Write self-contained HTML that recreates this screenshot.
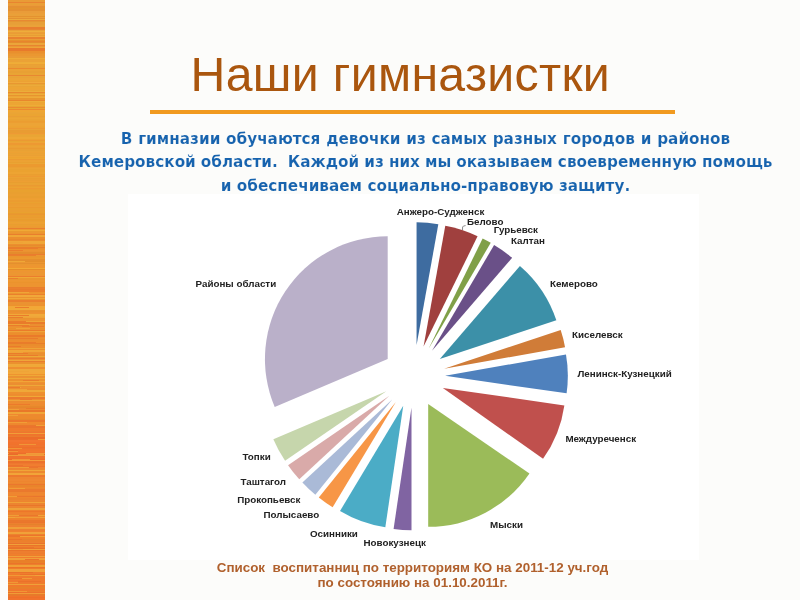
<!DOCTYPE html>
<html lang="ru">
<head>
<meta charset="utf-8">
<title>Наши гимназистки</title>
<style>
html,body{margin:0;padding:0;}
body{width:800px;height:600px;overflow:hidden;background:#fcfcfa;position:relative;font-family:"Liberation Sans",sans-serif;}
#stripe{position:absolute;left:8px;top:0;width:37px;height:600px;}
#title{position:absolute;left:190.6px;top:46.1px;font-size:48.2px;line-height:56px;color:#aa560e;white-space:nowrap;letter-spacing:0.33px;}
#rule{position:absolute;left:150px;top:110.3px;width:525px;height:3.5px;background:#f19a1f;}
#sub{position:absolute;left:60.5px;top:127.6px;width:730px;text-align:center;font-family:"DejaVu Sans","Liberation Sans",sans-serif;font-weight:bold;font-size:15.25px;line-height:23.8px;color:#1763ae;white-space:nowrap;-webkit-text-stroke:0.14px #fcfcfa;}
#chart{position:absolute;left:128px;top:194px;width:571px;height:366px;background:#fff;}
#pie{position:absolute;left:0;top:0;width:800px;height:600px;}
#pie text{font-family:"Liberation Sans",sans-serif;font-weight:bold;font-size:9.8px;fill:#222;}
#foot{position:absolute;left:127px;top:559.5px;width:571px;text-align:center;font-weight:bold;font-size:13.4px;line-height:15.6px;color:#b0602c;white-space:pre;}
</style>
</head>
<body>
<svg id="stripe" width="37" height="600" viewBox="0 0 37 600" shape-rendering="crispEdges">
<rect y="0" width="37" height="1" fill="#ea9934"/>
<rect y="1" width="37" height="2" fill="#eb8232"/>
<rect y="3" width="37" height="1" fill="#ea862e"/>
<rect y="4" width="37" height="1" fill="#ea8332"/>
<rect y="5" width="37" height="1" fill="#eb9a38"/>
<rect y="6" width="37" height="2" fill="#e49032"/>
<rect y="8" width="37" height="1" fill="#e4942e"/>
<rect y="9" width="37" height="2" fill="#e49032"/>
<rect y="11" width="37" height="2" fill="#e99c39"/>
<rect y="13" width="37" height="1" fill="#eb9e38"/>
<rect y="14" width="37" height="2" fill="#e9a039"/>
<rect y="16" width="37" height="1" fill="#e4922f"/>
<rect y="17" width="37" height="1" fill="#eba137"/>
<rect y="18" width="37" height="1" fill="#e39132"/>
<rect y="19" width="37" height="1" fill="#eda93b"/>
<rect y="20" width="37" height="1" fill="#e78933"/>
<rect y="21" width="37" height="1" fill="#e59632"/>
<rect y="22" width="37" height="2" fill="#e79f38"/>
<rect y="24" width="37" height="1" fill="#e7a038"/>
<rect y="25" width="37" height="2" fill="#eaa239"/>
<rect y="27" width="37" height="1" fill="#ea872f"/>
<rect y="28" width="37" height="2" fill="#e78630"/>
<rect y="30" width="37" height="1" fill="#eaa038"/>
<rect y="31" width="37" height="1" fill="#eeab3a"/>
<rect y="32" width="37" height="1" fill="#eb9e37"/>
<rect y="33" width="37" height="1" fill="#ea9c35"/>
<rect y="34" width="37" height="1" fill="#eca737"/>
<rect y="35" width="37" height="1" fill="#e89c35"/>
<rect y="36" width="37" height="1" fill="#efa83b"/>
<rect y="37" width="37" height="2" fill="#e49331"/>
<rect y="39" width="37" height="1" fill="#eb9b35"/>
<rect y="40" width="37" height="1" fill="#e6912c"/>
<rect y="41" width="37" height="1" fill="#e8842d"/>
<rect y="42" width="37" height="1" fill="#e38d2c"/>
<rect y="43" width="37" height="2" fill="#eba53a"/>
<rect y="45" width="37" height="1" fill="#e8842f"/>
<rect y="46" width="37" height="1" fill="#e99832"/>
<rect y="47" width="37" height="1" fill="#eea438"/>
<rect y="48" width="37" height="1" fill="#e4892c"/>
<rect y="49" width="37" height="1" fill="#e7902d"/>
<rect y="50" width="37" height="1" fill="#ea8c2d"/>
<rect y="51" width="37" height="2" fill="#ea8f2d"/>
<rect y="53" width="37" height="1" fill="#e89430"/>
<rect y="54" width="37" height="2" fill="#eb9731"/>
<rect y="56" width="37" height="2" fill="#e99b35"/>
<rect y="58" width="37" height="1" fill="#efab38"/>
<rect y="59" width="37" height="1" fill="#eba235"/>
<rect y="60" width="37" height="2" fill="#eba236"/>
<rect y="62" width="37" height="1" fill="#edac39"/>
<rect y="63" width="37" height="1" fill="#f0ad37"/>
<rect y="64" width="37" height="1" fill="#eaa034"/>
<rect y="65" width="37" height="1" fill="#e9a335"/>
<rect y="66" width="37" height="1" fill="#eaa037"/>
<rect y="67" width="37" height="1" fill="#e8a135"/>
<rect y="68" width="37" height="1" fill="#eb892e"/>
<rect y="69" width="37" height="2" fill="#eba235"/>
<rect y="71" width="37" height="2" fill="#e8a034"/>
<rect y="73" width="37" height="2" fill="#e9a434"/>
<rect y="75" width="37" height="1" fill="#e88831"/>
<rect y="76" width="37" height="1" fill="#eaa337"/>
<rect y="77" width="37" height="1" fill="#e8a336"/>
<rect y="78" width="37" height="2" fill="#eca437"/>
<rect y="80" width="37" height="1" fill="#eca533"/>
<rect y="81" width="37" height="1" fill="#eca134"/>
<rect y="82" width="37" height="1" fill="#f0aa3b"/>
<rect y="83" width="37" height="1" fill="#e89731"/>
<rect y="84" width="37" height="1" fill="#e8a533"/>
<rect y="85" width="37" height="1" fill="#ecaa3b"/>
<rect y="86" width="37" height="1" fill="#e9a435"/>
<rect y="87" width="37" height="2" fill="#eda534"/>
<rect y="89" width="37" height="1" fill="#eda437"/>
<rect y="90" width="37" height="1" fill="#eba534"/>
<rect y="91" width="37" height="1" fill="#ecad3a"/>
<rect y="92" width="37" height="1" fill="#e88a2d"/>
<rect y="93" width="37" height="1" fill="#e9a235"/>
<rect y="94" width="37" height="1" fill="#edad38"/>
<rect y="95" width="37" height="1" fill="#e7942e"/>
<rect y="96" width="37" height="1" fill="#eda435"/>
<rect y="97" width="37" height="1" fill="#eeaa39"/>
<rect y="98" width="37" height="1" fill="#e7962d"/>
<rect y="99" width="37" height="1" fill="#e89531"/>
<rect y="100" width="37" height="1" fill="#e9872d"/>
<rect y="101" width="37" height="1" fill="#edac38"/>
<rect y="102" width="37" height="1" fill="#eba533"/>
<rect y="103" width="37" height="2" fill="#eda534"/>
<rect y="105" width="37" height="1" fill="#edad37"/>
<rect y="106" width="37" height="1" fill="#e9a432"/>
<rect y="107" width="37" height="2" fill="#e9a432"/>
<rect y="109" width="37" height="1" fill="#ec8a2f"/>
<rect y="110" width="37" height="2" fill="#eea533"/>
<rect y="112" width="37" height="1" fill="#eba535"/>
<rect y="113" width="37" height="1" fill="#eaa435"/>
<rect y="114" width="37" height="2" fill="#eba432"/>
<rect y="116" width="37" height="1" fill="#e99e34"/>
<rect y="117" width="37" height="1" fill="#eaa532"/>
<rect y="118" width="37" height="1" fill="#eda536"/>
<rect y="119" width="37" height="1" fill="#eaa433"/>
<rect y="120" width="37" height="1" fill="#eba133"/>
<rect y="121" width="37" height="1" fill="#eb9d31"/>
<rect y="122" width="37" height="1" fill="#ec9e32"/>
<rect y="123" width="37" height="2" fill="#eca436"/>
<rect y="125" width="37" height="1" fill="#eda435"/>
<rect y="126" width="37" height="1" fill="#eda332"/>
<rect y="127" width="37" height="1" fill="#eba233"/>
<rect y="128" width="37" height="1" fill="#ec9a33"/>
<rect y="129" width="37" height="1" fill="#eaa235"/>
<rect y="130" width="37" height="1" fill="#e99b33"/>
<rect y="131" width="37" height="2" fill="#e99c32"/>
<rect y="133" width="37" height="1" fill="#ed9a34"/>
<rect y="134" width="37" height="1" fill="#eca233"/>
<rect y="135" width="37" height="2" fill="#e9a534"/>
<rect y="137" width="37" height="2" fill="#eea736"/>
<rect y="139" width="37" height="1" fill="#eda131"/>
<rect y="140" width="37" height="1" fill="#eb9933"/>
<rect y="141" width="37" height="1" fill="#e9a432"/>
<rect y="142" width="37" height="1" fill="#eda336"/>
<rect y="143" width="37" height="2" fill="#ed9932"/>
<rect y="145" width="37" height="1" fill="#eba132"/>
<rect y="146" width="37" height="1" fill="#eca334"/>
<rect y="147" width="37" height="1" fill="#eba035"/>
<rect y="148" width="37" height="1" fill="#ea9b31"/>
<rect y="149" width="37" height="1" fill="#eaa034"/>
<rect y="150" width="37" height="1" fill="#e9a134"/>
<rect y="151" width="37" height="1" fill="#eba334"/>
<rect y="152" width="37" height="1" fill="#eda133"/>
<rect y="153" width="37" height="1" fill="#e9a234"/>
<rect y="154" width="37" height="1" fill="#eca233"/>
<rect y="155" width="37" height="1" fill="#eaa034"/>
<rect y="156" width="37" height="1" fill="#eea434"/>
<rect y="157" width="37" height="1" fill="#eda230"/>
<rect y="158" width="37" height="1" fill="#eda532"/>
<rect y="159" width="37" height="1" fill="#ec9b32"/>
<rect y="160" width="37" height="1" fill="#eca133"/>
<rect y="161" width="37" height="1" fill="#eca234"/>
<rect y="162" width="37" height="1" fill="#e9a030"/>
<rect y="163" width="37" height="1" fill="#eaa535"/>
<rect y="164" width="37" height="2" fill="#ec9a2f"/>
<rect y="166" width="37" height="1" fill="#eb9930"/>
<rect y="167" width="37" height="1" fill="#eba032"/>
<rect y="168" width="37" height="1" fill="#eca334"/>
<rect y="169" width="37" height="1" fill="#e9a233"/>
<rect y="170" width="37" height="2" fill="#eba230"/>
<rect y="172" width="37" height="2" fill="#eda433"/>
<rect y="174" width="37" height="1" fill="#ea9e30"/>
<rect y="175" width="37" height="1" fill="#ec9f31"/>
<rect y="176" width="37" height="1" fill="#ed9a32"/>
<rect y="177" width="37" height="1" fill="#eba233"/>
<rect y="178" width="37" height="1" fill="#ea9e31"/>
<rect y="179" width="37" height="1" fill="#eb9f32"/>
<rect y="180" width="37" height="1" fill="#ea9e33"/>
<rect y="181" width="37" height="1" fill="#ed9f33"/>
<rect y="182" width="37" height="1" fill="#e89e30"/>
<rect y="183" width="37" height="2" fill="#eaa233"/>
<rect y="185" width="37" height="1" fill="#ea9a31"/>
<rect y="186" width="37" height="1" fill="#eb9e30"/>
<rect y="187" width="37" height="1" fill="#eca232"/>
<rect y="188" width="37" height="1" fill="#ed9a31"/>
<rect y="189" width="37" height="1" fill="#ea9f30"/>
<rect y="190" width="37" height="2" fill="#e9a12f"/>
<rect y="192" width="37" height="2" fill="#e99f30"/>
<rect y="194" width="37" height="2" fill="#eb9f31"/>
<rect y="196" width="37" height="2" fill="#e99e2f"/>
<rect y="198" width="37" height="1" fill="#ed9e32"/>
<rect y="199" width="37" height="1" fill="#eea031"/>
<rect y="200" width="37" height="2" fill="#eb9c30"/>
<rect y="202" width="37" height="1" fill="#eaa130"/>
<rect y="203" width="37" height="1" fill="#eb9d2f"/>
<rect y="204" width="37" height="1" fill="#ec9d31"/>
<rect y="205" width="37" height="1" fill="#eb9e32"/>
<rect y="206" width="37" height="1" fill="#ec9f32"/>
<rect y="207" width="37" height="1" fill="#eb9a2e"/>
<rect y="208" width="37" height="1" fill="#ea9f30"/>
<rect y="209" width="37" height="1" fill="#eb9f2f"/>
<rect y="210" width="37" height="2" fill="#ea9e32"/>
<rect y="212" width="37" height="1" fill="#e9a12f"/>
<rect y="213" width="37" height="1" fill="#e99a2e"/>
<rect y="214" width="37" height="1" fill="#e99730"/>
<rect y="215" width="37" height="1" fill="#eb9d2e"/>
<rect y="216" width="37" height="1" fill="#e99d30"/>
<rect y="217" width="37" height="1" fill="#eb9b2f"/>
<rect y="218" width="37" height="1" fill="#ea9f32"/>
<rect y="219" width="37" height="1" fill="#e89d2e"/>
<rect y="220" width="37" height="1" fill="#ea9c2d"/>
<rect y="221" width="37" height="1" fill="#ea9e32"/>
<rect y="222" width="37" height="1" fill="#eca230"/>
<rect y="223" width="37" height="1" fill="#ed9f33"/>
<rect y="224" width="37" height="1" fill="#e99e2f"/>
<rect y="225" width="37" height="1" fill="#eb9e30"/>
<rect y="226" width="37" height="1" fill="#ed9b30"/>
<rect y="227" width="37" height="1" fill="#eb9a32"/>
<rect y="228" width="37" height="1" fill="#e97f2d"/>
<rect y="229" width="37" height="1" fill="#ec9a30"/>
<rect y="230" width="37" height="1" fill="#f0a936"/>
<rect y="231" width="37" height="1" fill="#ea9a2e"/>
<rect y="232" width="37" height="1" fill="#ec9731"/>
<rect y="233" width="37" height="1" fill="#ec942e"/>
<rect y="234" width="37" height="1" fill="#e87f2d"/>
<rect y="235" width="37" height="2" fill="#f0a636"/>
<rect y="237" width="37" height="1" fill="#ea8f2f"/>
<rect y="238" width="37" height="1" fill="#ec8f2d"/>
<rect y="239" width="37" height="1" fill="#e8892d"/>
<rect y="240" width="37" height="1" fill="#eb8e2e"/>
<rect y="241" width="37" height="2" fill="#efa637"/>
<rect y="243" width="37" height="1" fill="#eea637"/>
<rect y="244" width="37" height="1" fill="#ed8f2e"/>
<rect y="245" width="37" height="1" fill="#e58c2d"/>
<rect y="246" width="37" height="1" fill="#e9922d"/>
<rect y="247" width="37" height="1" fill="#e97e2b"/>
<rect y="248" width="37" height="1" fill="#ea902d"/>
<rect y="249" width="37" height="1" fill="#ed912d"/>
<rect y="250" width="37" height="1" fill="#eb9431"/>
<rect y="251" width="37" height="1" fill="#ea9231"/>
<rect y="252" width="37" height="2" fill="#e48c2c"/>
<rect y="254" width="37" height="1" fill="#ea7c2e"/>
<rect y="255" width="37" height="1" fill="#ec9730"/>
<rect y="256" width="37" height="1" fill="#ea952e"/>
<rect y="257" width="37" height="1" fill="#ea972e"/>
<rect y="258" width="37" height="1" fill="#eb992e"/>
<rect y="259" width="37" height="1" fill="#e68f2c"/>
<rect y="260" width="37" height="1" fill="#e48e2e"/>
<rect y="261" width="37" height="1" fill="#e48e2b"/>
<rect y="262" width="37" height="1" fill="#eb9631"/>
<rect y="263" width="37" height="1" fill="#e48f2e"/>
<rect y="264" width="37" height="1" fill="#eb972e"/>
<rect y="265" width="37" height="1" fill="#ed9532"/>
<rect y="266" width="37" height="2" fill="#ee962f"/>
<rect y="268" width="37" height="1" fill="#f2a936"/>
<rect y="269" width="37" height="1" fill="#e58d2b"/>
<rect y="270" width="37" height="1" fill="#ed972e"/>
<rect y="271" width="37" height="2" fill="#ed9532"/>
<rect y="273" width="37" height="1" fill="#eb9831"/>
<rect y="274" width="37" height="2" fill="#ed9532"/>
<rect y="276" width="37" height="1" fill="#ec7e2d"/>
<rect y="277" width="37" height="1" fill="#efa836"/>
<rect y="278" width="37" height="2" fill="#ea962e"/>
<rect y="280" width="37" height="1" fill="#ee9631"/>
<rect y="281" width="37" height="1" fill="#ed962f"/>
<rect y="282" width="37" height="1" fill="#eb932d"/>
<rect y="283" width="37" height="2" fill="#ed9430"/>
<rect y="285" width="37" height="2" fill="#ed9430"/>
<rect y="287" width="37" height="1" fill="#e97e2d"/>
<rect y="288" width="37" height="1" fill="#eb802e"/>
<rect y="289" width="37" height="1" fill="#e97c2c"/>
<rect y="290" width="37" height="2" fill="#ec7f2b"/>
<rect y="292" width="37" height="1" fill="#ee922e"/>
<rect y="293" width="37" height="1" fill="#ed942e"/>
<rect y="294" width="37" height="1" fill="#ea802c"/>
<rect y="295" width="37" height="1" fill="#f2a839"/>
<rect y="296" width="37" height="1" fill="#f1a73a"/>
<rect y="297" width="37" height="1" fill="#eb932f"/>
<rect y="298" width="37" height="1" fill="#f1a738"/>
<rect y="299" width="37" height="1" fill="#eb932d"/>
<rect y="300" width="37" height="2" fill="#ea7f2e"/>
<rect y="302" width="37" height="2" fill="#ea9331"/>
<rect y="304" width="37" height="1" fill="#ec9230"/>
<rect y="305" width="37" height="1" fill="#ec922d"/>
<rect y="306" width="37" height="1" fill="#f2a638"/>
<rect y="307" width="37" height="2" fill="#f2a836"/>
<rect y="309" width="37" height="1" fill="#f0aa39"/>
<rect y="310" width="37" height="1" fill="#ea9130"/>
<rect y="311" width="37" height="1" fill="#ea902d"/>
<rect y="312" width="37" height="1" fill="#ec9031"/>
<rect y="313" width="37" height="1" fill="#ed932f"/>
<rect y="314" width="37" height="2" fill="#f0a939"/>
<rect y="316" width="37" height="1" fill="#efa639"/>
<rect y="317" width="37" height="1" fill="#e97c2c"/>
<rect y="318" width="37" height="1" fill="#ea932f"/>
<rect y="319" width="37" height="2" fill="#ed9331"/>
<rect y="321" width="37" height="1" fill="#eea536"/>
<rect y="322" width="37" height="2" fill="#e97b2a"/>
<rect y="324" width="37" height="1" fill="#ea8e30"/>
<rect y="325" width="37" height="2" fill="#eb8f2f"/>
<rect y="327" width="37" height="1" fill="#ee9130"/>
<rect y="328" width="37" height="1" fill="#ea902c"/>
<rect y="329" width="37" height="1" fill="#ea902f"/>
<rect y="330" width="37" height="1" fill="#eb7b2a"/>
<rect y="331" width="37" height="1" fill="#eea438"/>
<rect y="332" width="37" height="1" fill="#ec912f"/>
<rect y="333" width="37" height="2" fill="#ec8e2c"/>
<rect y="335" width="37" height="2" fill="#ea7a2a"/>
<rect y="337" width="37" height="1" fill="#ec8d2f"/>
<rect y="338" width="37" height="1" fill="#ed902f"/>
<rect y="339" width="37" height="1" fill="#ea8c2f"/>
<rect y="340" width="37" height="1" fill="#ec8d2f"/>
<rect y="341" width="37" height="2" fill="#ee8d2d"/>
<rect y="343" width="37" height="1" fill="#e87d2a"/>
<rect y="344" width="37" height="1" fill="#ea8c2c"/>
<rect y="345" width="37" height="1" fill="#ea8d2c"/>
<rect y="346" width="37" height="1" fill="#ec8e30"/>
<rect y="347" width="37" height="1" fill="#ed8d2d"/>
<rect y="348" width="37" height="1" fill="#eea436"/>
<rect y="349" width="37" height="1" fill="#eb8d2e"/>
<rect y="350" width="37" height="1" fill="#f1a636"/>
<rect y="351" width="37" height="1" fill="#f0a538"/>
<rect y="352" width="37" height="1" fill="#ee9130"/>
<rect y="353" width="37" height="1" fill="#ea902d"/>
<rect y="354" width="37" height="1" fill="#ea9030"/>
<rect y="355" width="37" height="1" fill="#eb8e31"/>
<rect y="356" width="37" height="1" fill="#eea937"/>
<rect y="357" width="37" height="1" fill="#ea8e2f"/>
<rect y="358" width="37" height="1" fill="#e97d2e"/>
<rect y="359" width="37" height="1" fill="#ee9031"/>
<rect y="360" width="37" height="1" fill="#efa639"/>
<rect y="361" width="37" height="1" fill="#e87d2e"/>
<rect y="362" width="37" height="1" fill="#ec8f30"/>
<rect y="363" width="37" height="1" fill="#ea922d"/>
<rect y="364" width="37" height="1" fill="#f0a83a"/>
<rect y="365" width="37" height="2" fill="#efa837"/>
<rect y="367" width="37" height="2" fill="#ee8f30"/>
<rect y="369" width="37" height="2" fill="#efa83a"/>
<rect y="371" width="37" height="1" fill="#f1a73a"/>
<rect y="372" width="37" height="1" fill="#f1a63a"/>
<rect y="373" width="37" height="1" fill="#f2a737"/>
<rect y="374" width="37" height="1" fill="#ee9430"/>
<rect y="375" width="37" height="1" fill="#efa836"/>
<rect y="376" width="37" height="1" fill="#ea9131"/>
<rect y="377" width="37" height="1" fill="#ec9231"/>
<rect y="378" width="37" height="1" fill="#eea737"/>
<rect y="379" width="37" height="1" fill="#ea9231"/>
<rect y="380" width="37" height="1" fill="#ec922e"/>
<rect y="381" width="37" height="1" fill="#f1a537"/>
<rect y="382" width="37" height="1" fill="#ee912f"/>
<rect y="383" width="37" height="2" fill="#eb8e31"/>
<rect y="385" width="37" height="1" fill="#eea837"/>
<rect y="386" width="37" height="1" fill="#eb8f31"/>
<rect y="387" width="37" height="1" fill="#ee9032"/>
<rect y="388" width="37" height="1" fill="#ed8d30"/>
<rect y="389" width="37" height="1" fill="#eb8d2f"/>
<rect y="390" width="37" height="2" fill="#efa838"/>
<rect y="392" width="37" height="1" fill="#ee902e"/>
<rect y="393" width="37" height="1" fill="#ed902f"/>
<rect y="394" width="37" height="1" fill="#ee8c2e"/>
<rect y="395" width="37" height="1" fill="#eb8f2f"/>
<rect y="396" width="37" height="1" fill="#f1a736"/>
<rect y="397" width="37" height="1" fill="#eb7a2e"/>
<rect y="398" width="37" height="1" fill="#ea7b2e"/>
<rect y="399" width="37" height="1" fill="#ee8d2e"/>
<rect y="400" width="37" height="1" fill="#eea439"/>
<rect y="401" width="37" height="2" fill="#ec8c30"/>
<rect y="403" width="37" height="1" fill="#ef8a30"/>
<rect y="404" width="37" height="1" fill="#ec8b30"/>
<rect y="405" width="37" height="1" fill="#ec8c2d"/>
<rect y="406" width="37" height="1" fill="#e7872c"/>
<rect y="407" width="37" height="1" fill="#e5872a"/>
<rect y="408" width="37" height="1" fill="#eb8831"/>
<rect y="409" width="37" height="1" fill="#ec8c2f"/>
<rect y="410" width="37" height="2" fill="#e97829"/>
<rect y="412" width="37" height="1" fill="#eea637"/>
<rect y="413" width="37" height="1" fill="#f1a437"/>
<rect y="414" width="37" height="1" fill="#f08830"/>
<rect y="415" width="37" height="2" fill="#ec8a2e"/>
<rect y="417" width="37" height="1" fill="#ed8a2c"/>
<rect y="418" width="37" height="1" fill="#ec8a2c"/>
<rect y="419" width="37" height="1" fill="#e6872c"/>
<rect y="420" width="37" height="2" fill="#ec772c"/>
<rect y="422" width="37" height="1" fill="#f0892c"/>
<rect y="423" width="37" height="1" fill="#ef882f"/>
<rect y="424" width="37" height="1" fill="#ee872f"/>
<rect y="425" width="37" height="1" fill="#f0a136"/>
<rect y="426" width="37" height="2" fill="#eb742d"/>
<rect y="428" width="37" height="1" fill="#ee7c2d"/>
<rect y="429" width="37" height="1" fill="#ef7a2e"/>
<rect y="430" width="37" height="1" fill="#f17b2d"/>
<rect y="431" width="37" height="1" fill="#e97d2d"/>
<rect y="432" width="37" height="1" fill="#f0742f"/>
<rect y="433" width="37" height="1" fill="#f19e38"/>
<rect y="434" width="37" height="1" fill="#ee742d"/>
<rect y="435" width="37" height="1" fill="#ef762c"/>
<rect y="436" width="37" height="1" fill="#ea7d2d"/>
<rect y="437" width="37" height="2" fill="#ec6c29"/>
<rect y="439" width="37" height="1" fill="#f29e36"/>
<rect y="440" width="37" height="2" fill="#f27530"/>
<rect y="442" width="37" height="1" fill="#f2722d"/>
<rect y="443" width="37" height="1" fill="#f1732c"/>
<rect y="444" width="37" height="1" fill="#f1722c"/>
<rect y="445" width="37" height="1" fill="#ef7430"/>
<rect y="446" width="37" height="1" fill="#ef752c"/>
<rect y="447" width="37" height="1" fill="#ee7029"/>
<rect y="448" width="37" height="1" fill="#ee722f"/>
<rect y="449" width="37" height="2" fill="#f1752c"/>
<rect y="451" width="37" height="1" fill="#f2762d"/>
<rect y="452" width="37" height="1" fill="#f2722c"/>
<rect y="453" width="37" height="1" fill="#f09a39"/>
<rect y="454" width="37" height="1" fill="#ea6c2a"/>
<rect y="455" width="37" height="1" fill="#ef9c3a"/>
<rect y="456" width="37" height="1" fill="#ef722e"/>
<rect y="457" width="37" height="1" fill="#ee7430"/>
<rect y="458" width="37" height="1" fill="#f0722c"/>
<rect y="459" width="37" height="1" fill="#ee6c2c"/>
<rect y="460" width="37" height="1" fill="#f39b39"/>
<rect y="461" width="37" height="2" fill="#ec712c"/>
<rect y="463" width="37" height="1" fill="#ee782f"/>
<rect y="464" width="37" height="1" fill="#f07d30"/>
<rect y="465" width="37" height="1" fill="#f17e2f"/>
<rect y="466" width="37" height="1" fill="#ed742e"/>
<rect y="467" width="37" height="1" fill="#f18231"/>
<rect y="468" width="37" height="1" fill="#ed8531"/>
<rect y="469" width="37" height="1" fill="#ed8730"/>
<rect y="470" width="37" height="1" fill="#f0a537"/>
<rect y="471" width="37" height="2" fill="#ec882f"/>
<rect y="473" width="37" height="2" fill="#f2a438"/>
<rect y="475" width="37" height="2" fill="#ed792d"/>
<rect y="477" width="37" height="1" fill="#ed8732"/>
<rect y="478" width="37" height="1" fill="#ef8630"/>
<rect y="479" width="37" height="2" fill="#ef8832"/>
<rect y="481" width="37" height="1" fill="#ee852f"/>
<rect y="482" width="37" height="1" fill="#ee8930"/>
<rect y="483" width="37" height="1" fill="#ed862f"/>
<rect y="484" width="37" height="1" fill="#eb772e"/>
<rect y="485" width="37" height="2" fill="#e9842b"/>
<rect y="487" width="37" height="1" fill="#ef862d"/>
<rect y="488" width="37" height="1" fill="#ec852f"/>
<rect y="489" width="37" height="2" fill="#eb792e"/>
<rect y="491" width="37" height="1" fill="#ea792d"/>
<rect y="492" width="37" height="2" fill="#ee8630"/>
<rect y="494" width="37" height="1" fill="#f0872e"/>
<rect y="495" width="37" height="1" fill="#ee842e"/>
<rect y="496" width="37" height="1" fill="#e9752e"/>
<rect y="497" width="37" height="1" fill="#ef862d"/>
<rect y="498" width="37" height="2" fill="#ec832f"/>
<rect y="500" width="37" height="1" fill="#ec8730"/>
<rect y="501" width="37" height="1" fill="#ed852e"/>
<rect y="502" width="37" height="1" fill="#f0a236"/>
<rect y="503" width="37" height="2" fill="#ec8431"/>
<rect y="505" width="37" height="1" fill="#ea7629"/>
<rect y="506" width="37" height="1" fill="#ee8631"/>
<rect y="507" width="37" height="1" fill="#ec852f"/>
<rect y="508" width="37" height="1" fill="#eea239"/>
<rect y="509" width="37" height="1" fill="#efa136"/>
<rect y="510" width="37" height="1" fill="#ed822e"/>
<rect y="511" width="37" height="1" fill="#ed762a"/>
<rect y="512" width="37" height="1" fill="#ef812c"/>
<rect y="513" width="37" height="1" fill="#ee822f"/>
<rect y="514" width="37" height="1" fill="#ed832d"/>
<rect y="515" width="37" height="1" fill="#f1a437"/>
<rect y="516" width="37" height="1" fill="#ee842f"/>
<rect y="517" width="37" height="1" fill="#f0a438"/>
<rect y="518" width="37" height="1" fill="#ee842c"/>
<rect y="519" width="37" height="1" fill="#ef812d"/>
<rect y="520" width="37" height="2" fill="#ea772c"/>
<rect y="522" width="37" height="1" fill="#ea752c"/>
<rect y="523" width="37" height="1" fill="#ed802f"/>
<rect y="524" width="37" height="1" fill="#e6812b"/>
<rect y="525" width="37" height="1" fill="#ec8330"/>
<rect y="526" width="37" height="1" fill="#ef8030"/>
<rect y="527" width="37" height="1" fill="#f19f39"/>
<rect y="528" width="37" height="1" fill="#efa037"/>
<rect y="529" width="37" height="2" fill="#ed8030"/>
<rect y="531" width="37" height="1" fill="#f0822e"/>
<rect y="532" width="37" height="1" fill="#f2a03a"/>
<rect y="533" width="37" height="1" fill="#eea338"/>
<rect y="534" width="37" height="1" fill="#ee812e"/>
<rect y="535" width="37" height="1" fill="#ec752a"/>
<rect y="536" width="37" height="1" fill="#f2a135"/>
<rect y="537" width="37" height="1" fill="#f0822c"/>
<rect y="538" width="37" height="1" fill="#ef822c"/>
<rect y="539" width="37" height="1" fill="#e6822c"/>
<rect y="540" width="37" height="2" fill="#ec802c"/>
<rect y="542" width="37" height="1" fill="#ec822f"/>
<rect y="543" width="37" height="1" fill="#e9732d"/>
<rect y="544" width="37" height="1" fill="#f1a039"/>
<rect y="545" width="37" height="1" fill="#ea7429"/>
<rect y="546" width="37" height="2" fill="#ef812c"/>
<rect y="548" width="37" height="1" fill="#e97329"/>
<rect y="549" width="37" height="1" fill="#f2a239"/>
<rect y="550" width="37" height="1" fill="#e9742a"/>
<rect y="551" width="37" height="2" fill="#ed7e2f"/>
<rect y="553" width="37" height="1" fill="#ed7c2e"/>
<rect y="554" width="37" height="1" fill="#f0802b"/>
<rect y="555" width="37" height="1" fill="#ec7e2d"/>
<rect y="556" width="37" height="1" fill="#f1a139"/>
<rect y="557" width="37" height="1" fill="#f17c2d"/>
<rect y="558" width="37" height="2" fill="#f19f38"/>
<rect y="560" width="37" height="1" fill="#e98028"/>
<rect y="561" width="37" height="1" fill="#e97f29"/>
<rect y="562" width="37" height="1" fill="#e88228"/>
<rect y="563" width="37" height="1" fill="#ed732c"/>
<rect y="564" width="37" height="1" fill="#ed7f2b"/>
<rect y="565" width="37" height="1" fill="#efa036"/>
<rect y="566" width="37" height="1" fill="#f19f36"/>
<rect y="567" width="37" height="1" fill="#ed7228"/>
<rect y="568" width="37" height="1" fill="#ee7e2b"/>
<rect y="569" width="37" height="2" fill="#f1a039"/>
<rect y="571" width="37" height="1" fill="#efa137"/>
<rect y="572" width="37" height="1" fill="#f17b2e"/>
<rect y="573" width="37" height="1" fill="#ef7d2e"/>
<rect y="574" width="37" height="1" fill="#f07c2a"/>
<rect y="575" width="37" height="1" fill="#f0a139"/>
<rect y="576" width="37" height="1" fill="#f07a2c"/>
<rect y="577" width="37" height="1" fill="#ee7b2e"/>
<rect y="578" width="37" height="1" fill="#ef7a2c"/>
<rect y="579" width="37" height="1" fill="#ee7d2a"/>
<rect y="580" width="37" height="2" fill="#f0792e"/>
<rect y="582" width="37" height="1" fill="#ef792e"/>
<rect y="583" width="37" height="1" fill="#ee7c2c"/>
<rect y="584" width="37" height="1" fill="#f0a039"/>
<rect y="585" width="37" height="1" fill="#f1782d"/>
<rect y="586" width="37" height="1" fill="#ee7b2a"/>
<rect y="587" width="37" height="1" fill="#e98128"/>
<rect y="588" width="37" height="1" fill="#ea7e2b"/>
<rect y="589" width="37" height="1" fill="#f1772d"/>
<rect y="590" width="37" height="1" fill="#ef782c"/>
<rect y="591" width="37" height="1" fill="#ea802b"/>
<rect y="592" width="37" height="1" fill="#ed702b"/>
<rect y="593" width="37" height="1" fill="#f19b37"/>
<rect y="594" width="37" height="2" fill="#e77a2a"/>
<rect y="596" width="37" height="1" fill="#f2722b"/>
<rect y="597" width="37" height="1" fill="#ee7028"/>
<rect y="598" width="37" height="1" fill="#f1722c"/>
<rect y="599" width="37" height="1" fill="#f1732c"/>
<rect y="0" width="37" height="2" fill="#e99b36"/>
<rect y="2" width="37" height="1" fill="#e98430"/>
<rect y="3" width="37" height="2" fill="#e99e36"/>
<rect y="27" width="37" height="2" fill="#e87f2e"/>
<rect y="31" width="37" height="1" fill="#eead3b"/>
<rect y="37" width="37" height="2" fill="#e8822e"/>
<rect y="48" width="37" height="3" fill="#e87a2c"/>
<rect y="107" width="37" height="1" fill="#ea8c2f"/>
<rect x="0" y="578" width="24" height="1" fill="#f09935"/>
<rect x="0" y="248" width="10" height="1" fill="#ea7d2b"/>
<rect x="0" y="496" width="23" height="1" fill="#f09e37"/>
<rect x="12" y="484" width="25" height="1" fill="#eb772c"/>
<rect x="0" y="324" width="22" height="1" fill="#efa336"/>
<rect x="0" y="547" width="26" height="1" fill="#eb742b"/>
<rect x="0" y="315" width="21" height="1" fill="#ea7d2b"/>
<rect x="0" y="387" width="13" height="1" fill="#efa337"/>
<rect x="10" y="581" width="23" height="1" fill="#eb712a"/>
<rect x="9" y="496" width="16" height="1" fill="#eb772c"/>
<rect x="0" y="439" width="30" height="1" fill="#ec6e2b"/>
<rect x="18" y="408" width="19" height="1" fill="#eb792b"/>
<rect x="0" y="582" width="10" height="1" fill="#f09835"/>
<rect x="0" y="591" width="19" height="1" fill="#f19735"/>
<rect x="0" y="278" width="10" height="1" fill="#ea7f2c"/>
<rect x="15" y="317" width="22" height="1" fill="#efa336"/>
<rect x="17" y="559" width="14" height="1" fill="#eb732a"/>
<rect x="0" y="438" width="15" height="1" fill="#ec6e2b"/>
<rect x="0" y="242" width="15" height="1" fill="#efa236"/>
<rect x="0" y="467" width="30" height="1" fill="#eb752c"/>
<rect x="0" y="578" width="14" height="1" fill="#eb722a"/>
<rect x="0" y="409" width="11" height="1" fill="#f0a036"/>
<rect x="3" y="549" width="12" height="1" fill="#f09a36"/>
<rect x="14" y="326" width="22" height="1" fill="#ea7c2b"/>
<rect x="0" y="255" width="28" height="1" fill="#ea7f2c"/>
<rect x="1" y="453" width="17" height="1" fill="#ec6e2b"/>
<rect x="0" y="342" width="28" height="1" fill="#ea7b2b"/>
<rect x="0" y="389" width="19" height="1" fill="#efa237"/>
<rect x="0" y="536" width="12" height="1" fill="#eb742b"/>
<rect x="12" y="574" width="25" height="1" fill="#eb722a"/>
<rect x="0" y="439" width="25" height="1" fill="#ec6e2b"/>
<rect x="0" y="352" width="15" height="1" fill="#efa336"/>
<rect x="0" y="422" width="19" height="1" fill="#f09e36"/>
<rect x="0" y="515" width="20" height="1" fill="#f09d36"/>
<rect x="12" y="399" width="12" height="1" fill="#ea7a2c"/>
<rect x="11" y="444" width="17" height="1" fill="#f19536"/>
<rect x="0" y="325" width="21" height="1" fill="#ea7c2b"/>
<rect x="0" y="451" width="10" height="1" fill="#f19536"/>
<rect x="7" y="307" width="14" height="1" fill="#ea7d2b"/>
<rect x="8" y="328" width="14" height="1" fill="#efa336"/>
<rect x="0" y="467" width="21" height="1" fill="#f09c37"/>
<rect x="0" y="338" width="30" height="1" fill="#ea7b2b"/>
<rect x="15" y="380" width="16" height="1" fill="#ea7c2c"/>
<rect x="4" y="459" width="18" height="1" fill="#f19536"/>
<rect x="11" y="528" width="17" height="1" fill="#f09c36"/>
<rect x="0" y="539" width="14" height="1" fill="#eb742b"/>
<rect x="0" y="575" width="27" height="1" fill="#f09935"/>
<rect x="0" y="425" width="28" height="1" fill="#eb772b"/>
<rect x="0" y="387" width="12" height="1" fill="#ea7c2c"/>
<rect x="0" y="346" width="13" height="1" fill="#ea7b2b"/>
<rect x="11" y="515" width="19" height="1" fill="#eb762b"/>
<rect x="0" y="261" width="17" height="1" fill="#efa737"/>
<rect x="0" y="292" width="21" height="1" fill="#efa537"/>
<rect x="0" y="465" width="15" height="1" fill="#ec732c"/>
<rect x="0" y="415" width="10" height="1" fill="#f09f36"/>
<rect x="0" y="355" width="30" height="1" fill="#ea7c2b"/>
<rect x="0" y="321" width="18" height="1" fill="#ea7c2b"/>
<rect x="0" y="592" width="11" height="1" fill="#ec6f2a"/>
<rect x="0" y="448" width="14" height="1" fill="#f19536"/>
<rect x="0" y="248" width="30" height="1" fill="#ea7d2b"/>
<rect x="7" y="517" width="25" height="1" fill="#f09c36"/>
<rect x="0" y="450" width="10" height="1" fill="#ec6e2b"/>
<rect x="0" y="563" width="28" height="1" fill="#eb732a"/>
<rect x="0" y="353" width="20" height="1" fill="#ea7c2b"/>
<rect x="0" y="404" width="22" height="1" fill="#eb7a2b"/>
<rect x="0" y="371" width="21" height="1" fill="#efa437"/>
<rect x="10" y="454" width="26" height="1" fill="#f19536"/>
<rect x="1" y="488" width="16" height="1" fill="#f09e37"/>
<rect x="0" y="572" width="25" height="1" fill="#eb722a"/>
<rect x="0" y="250" width="15" height="1" fill="#ea7e2c"/>
</svg>
<div id="title">Наши гимназистки</div>
<div id="rule"></div>
<div id="sub"><span style="word-spacing:0.45px">В гимназии обучаются девочки из самых разных городов и районов</span><br><span style="word-spacing:-0.27px">Кемеровской области.&nbsp; Каждой из них мы оказываем своевременную помощь</span><br>и обеспечиваем социально-правовую защиту.</div>
<div id="chart"></div>
<svg id="pie" width="800" height="600" viewBox="0 0 800 600">
<path d="M416.58 345.12 L416.58 222.37 A122.75 122.75 0 0 1 438.32 224.31 Z" fill="#3E6CA0"/>
<path d="M423.55 346.56 L445.29 225.75 A122.75 122.75 0 0 1 477.55 236.32 Z" fill="#A0403E"/>
<path d="M428.61 348.73 L482.62 238.50 A122.75 122.75 0 0 1 490.73 242.85 Z" fill="#80A048"/>
<path d="M432.01 350.84 L494.12 244.97 A122.75 122.75 0 0 1 512.14 257.85 Z" fill="#6A5088"/>
<path d="M439.82 358.90 L519.94 265.91 A122.75 122.75 0 0 1 556.36 320.36 Z" fill="#3C90A8"/>
<path d="M444.15 368.65 L560.69 330.11 A122.75 122.75 0 0 1 565.04 347.33 Z" fill="#D07C38"/>
<path d="M445.10 375.81 L565.98 354.49 A122.75 122.75 0 0 1 566.59 393.32 Z" fill="#4F81BD"/>
<path d="M442.87 387.90 L564.37 405.41 A122.75 122.75 0 0 1 543.05 458.83 Z" fill="#C0504D"/>
<path d="M428.18 404.10 L529.46 473.45 A122.75 122.75 0 0 1 428.18 526.85 Z" fill="#9BBB59"/>
<path d="M411.51 407.52 L411.51 530.27 A122.75 122.75 0 0 1 393.58 528.95 Z" fill="#8064A2"/>
<path d="M403.25 405.77 L385.32 527.20 A122.75 122.75 0 0 1 340.03 510.99 Z" fill="#4BACC6"/>
<path d="M395.87 401.96 L332.65 507.17 A122.75 122.75 0 0 1 318.79 497.48 Z" fill="#F79646"/>
<path d="M392.43 399.17 L315.35 494.70 A122.75 122.75 0 0 1 302.37 482.57 Z" fill="#AABAD7"/>
<path d="M389.34 395.83 L299.27 479.23 A122.75 122.75 0 0 1 288.06 465.18 Z" fill="#D9AAA9"/>
<path d="M386.35 391.33 L285.06 460.68 A122.75 122.75 0 0 1 273.35 439.29 Z" fill="#C6D6AC"/>
<path d="M387.70 359.02 L274.71 406.99 A122.75 122.75 0 0 1 387.70 236.27 Z" fill="#BAB0C9"/>
<path d="M462.5 230 L462.6 227 Q462.8 225.8 465.6 225.6" fill="none" stroke="#808080" stroke-width="0.9"/>
<text x="396.8" y="214.6">Анжеро-Судженск</text>
<text x="467.0" y="224.6">Белово</text>
<text x="493.8" y="233.4">Гурьевск</text>
<text x="511.0" y="243.8">Калтан</text>
<text x="550.0" y="287.3">Кемерово</text>
<text x="572.0" y="338.4">Киселевск</text>
<text x="577.4" y="377.2">Ленинск-Кузнецкий</text>
<text x="565.4" y="441.6">Междуреченск</text>
<text x="490.0" y="528.2">Мыски</text>
<text x="363.5" y="545.8">Новокузнецк</text>
<text x="310.0" y="536.8">Осинники</text>
<text x="263.5" y="517.8">Полысаево</text>
<text x="237.2" y="503.3">Прокопьевск</text>
<text x="240.5" y="485.2">Таштагол</text>
<text x="242.5" y="460.3">Топки</text>
<text x="195.6" y="286.9">Районы области</text>
</svg>
<div id="foot">Список  воспитанниц по территориям КО на 2011-12 уч.год
по состоянию на 01.10.2011г.</div>
</body>
</html>
